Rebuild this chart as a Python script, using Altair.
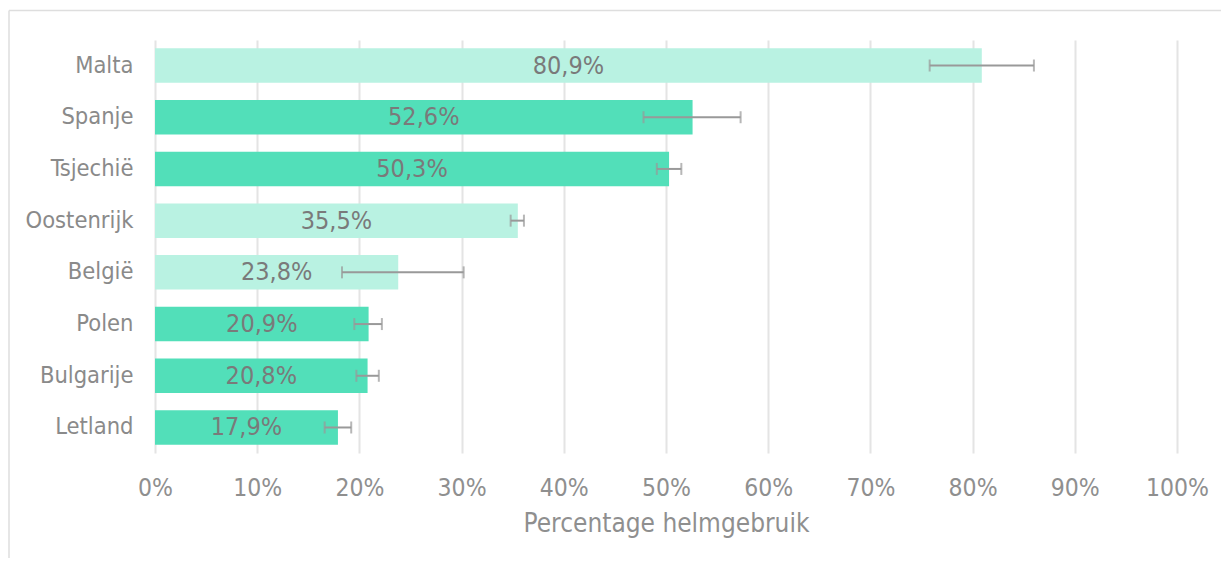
import altair as alt
import pandas as pd

countries = ["Malta", "Spanje", "Tsjechië", "Oostenrijk", "België", "Polen", "Bulgarije", "Letland"]
values = [80.9, 52.6, 50.3, 35.5, 23.8, 20.9, 20.8, 17.9]
lower = [75.8, 47.8, 49.1, 34.8, 18.3, 19.5, 19.7, 16.6]
upper = [86.0, 57.3, 51.5, 36.1, 30.2, 22.2, 21.9, 19.2]
groups = ["licht", "donker", "donker", "licht", "licht", "donker", "donker", "donker"]
tick_values = [0, 10, 20, 30, 40, 50, 60, 70, 80, 90, 100]
x_title = "Percentage helmgebruik"

labels = [f"{v:.1f}".replace(".", ",") + "%" for v in values]
df = pd.DataFrame({
    "land": countries,
    "waarde": values,
    "laag": lower,
    "hoog": upper,
    "groep": groups,
    "label": labels,
})

FONT = "DejaVu Sans Condensed"
color_scale = alt.Scale(domain=["licht", "donker"], range=["#B9F2E2", "#52DFB9"])

y_enc = alt.Y(
    "land:N",
    sort=countries,
    scale=alt.Scale(paddingInner=0.333, paddingOuter=0.16),
    axis=alt.Axis(title=None, labelFontSize=23.5, labelColor="#8a8a8a", labelPadding=22,
                  ticks=False, domain=False, labelFont=FONT),
)
x_scale = alt.Scale(domain=[0, 100], nice=False)

base = alt.Chart(df)

bars = base.mark_bar().encode(
    x=alt.X(
        "waarde:Q",
        scale=x_scale,
        axis=alt.Axis(values=tick_values, labelExpr="datum.value + '%'", title=x_title,
                      grid=True, gridColor="#e4e4e4", gridWidth=2, ticks=False, domain=False,
                      labelFlush=False,
                      labelPadding=23, titlePadding=11, labelFontSize=24.5, titleFontSize=26,
                      labelColor="#8f8f8f", titleColor="#8f8f8f", titleFontWeight="normal",
                      labelFont=FONT, titleFont=FONT),
    ),
    y=y_enc,
    color=alt.Color("groep:N", scale=color_scale, legend=None),
)

rules = base.mark_rule(color="#999999", strokeWidth=2).encode(
    x=alt.X("laag:Q", scale=x_scale),
    x2="hoog:Q",
    y=alt.Y("land:N", sort=countries),
)
cap_lo = base.mark_tick(color="#999999", thickness=2, size=12).encode(
    x=alt.X("laag:Q", scale=x_scale),
    y=alt.Y("land:N", sort=countries),
)
cap_hi = base.mark_tick(color="#999999", thickness=2, size=12).encode(
    x=alt.X("hoog:Q", scale=x_scale),
    y=alt.Y("land:N", sort=countries),
)

text = base.transform_calculate(mid="datum.waarde / 2").mark_text(
    fontSize=25, color="#7a7a7a", baseline="middle", align="center", font=FONT
).encode(
    x=alt.X("mid:Q", scale=x_scale),
    y=alt.Y("land:N", sort=countries),
    text="label:N",
)

# chart-area border (top and left edges; the others fall outside the window)
frame_data = alt.Data(values=[{"a": 1}])
frame_top = alt.Chart(frame_data).mark_rule(color="#dedede", strokeWidth=1.5, clip=False).encode(
    x=alt.value(-146), x2=alt.value(1066), y=alt.value(-29.5)
)
frame_left = alt.Chart(frame_data).mark_rule(color="#dedede", strokeWidth=1.5, clip=False).encode(
    x=alt.value(-146), y=alt.value(-29.5), y2=alt.value(518)
)

chart = alt.layer(frame_top, frame_left, bars, rules, cap_lo, cap_hi, text).properties(
    width=1022,
    height=413,
    padding={"left": 147, "top": 32, "right": 45, "bottom": 106},
    autosize=alt.AutoSizeParams(type="none"),
).configure(font=FONT, view=alt.ViewConfig(stroke=None))

chart.save("out.html", embed_options={"renderer": "svg", "actions": False})
